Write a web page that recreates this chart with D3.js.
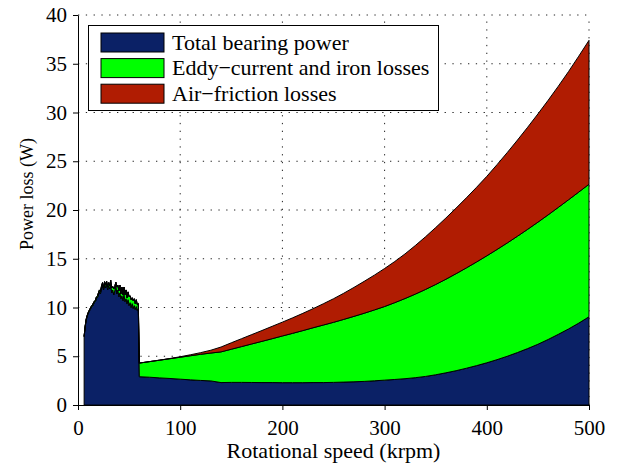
<!DOCTYPE html>
<html>
<head>
<meta charset="utf-8">
<script src="https://cdn.jsdelivr.net/npm/d3@7"></script>
<style>
  body { margin: 0; background: #fff; }
  svg { display: block; }
  text { font-family: "Liberation Serif", "Times New Roman", serif; fill: #000; }
</style>
</head>
<body>
<svg id="chart" width="618" height="465"></svg>
<script>
// Rotational speed (krpm): fine steps through the low-speed bearing regime,
// coarser steps once the rotor runs on the magnetic bearing.
const lowSpeed = [6, 7, 8, 9, 10, 11, 12, 13, 14, 15, 16, 17, 18, 19, 20, 21, 22, 23, 24, 25,
  26, 27, 28, 29, 30, 31, 32, 33, 34, 35, 36, 37, 38, 39, 40, 41, 42, 43, 44, 45,
  46, 47, 48, 49, 50, 51, 52, 53, 54, 55, 56, 57, 58, 59];
const highSpeed = [60, 70, 80, 90, 100, 110, 120, 130, 140, 150, 160, 170, 180, 190, 200,
  210, 220, 230, 240, 250, 260, 270, 280, 290, 300, 310, 320, 330, 340, 350,
  360, 370, 380, 390, 400, 410, 420, 430, 440, 450, 460, 470, 480, 490, 500];

// Total bearing power (W)
const bearingLow = [7.0, 8.0, 8.7, 9.1, 9.4, 9.6, 9.8, 10.0, 10.1, 10.3, 10.5, 10.6, 10.9, 11.0, 11.3,
  11.6, 11.4, 12.0, 12.3, 11.8, 12.4, 12.0, 12.5, 11.8, 12.2, 11.9, 12.4, 11.5, 11.8, 11.3,
  11.7, 12.3, 11.4, 11.8, 11.1, 11.5, 10.9, 11.2, 10.7, 11.3, 10.6, 10.9, 10.4, 10.8, 10.2,
  10.5, 10.0, 10.4, 9.9, 10.2, 9.8, 10.1, 9.7, 9.9];
const bearingHigh = [2.9, 2.85, 2.78, 2.72, 2.65, 2.58, 2.52, 2.47, 2.3, 2.32, 2.32, 2.31, 2.3, 2.3, 2.29,
  2.29, 2.29, 2.3, 2.3, 2.32, 2.35, 2.38, 2.42, 2.48, 2.55, 2.62, 2.7, 2.8, 2.93, 3.1,
  3.3, 3.52, 3.77, 4.04, 4.33, 4.65, 5.0, 5.38, 5.79, 6.23, 6.72, 7.25, 7.8, 8.4, 9.05];

// Eddy-current and iron losses (W)
const eddyLow = [0.05, 0.08, 0.1, 0.1, 0.1, 0.12, 0.12, 0.12, 0.15, 0.15,
  0.15, 0.15, 0.18, 0.18, 0.2, 0.2, 0.25, 0.2, 0.25, 0.2,
  0.25, 0.3, 0.2, 0.3, 0.35, 0.3, 0.4, 0.5, 0.35, 0.6,
  0.45, 0.3, 0.7, 0.5, 0.6, 0.8, 0.5, 0.9, 0.6, 0.8,
  0.7, 0.9, 0.6, 0.8, 0.9, 0.7, 0.8, 0.6, 0.8, 0.7,
  0.6, 0.7, 0.6, 0.5];
const eddyHigh = [1.4, 1.6, 1.82, 2.03, 2.25, 2.47, 2.68, 2.86, 3.15, 3.4, 3.67, 3.95, 4.23, 4.5, 4.79,
  5.06, 5.34, 5.62, 5.9, 6.16, 6.43, 6.71, 6.99, 7.27, 7.55, 7.88, 8.22, 8.57, 8.92, 9.26,
  9.6, 9.95, 10.29, 10.63, 10.97, 11.3, 11.62, 11.93, 12.23, 12.52, 12.78, 13.02, 13.25, 13.44, 13.59];

// Air-friction losses (W)
const airLow = [0, 0, 0, 0, 0, 0, 0, 0, 0, 0, 0, 0, 0, 0, 0, 0, 0, 0, 0, 0,
  0, 0, 0, 0, 0, 0, 0, 0, 0, 0, 0, 0, 0, 0, 0, 0, 0, 0, 0, 0,
  0, 0, 0, 0, 0, 0, 0, 0, 0, 0, 0, 0, 0, 0];
const airHigh = [0, 0, 0, 0.02, 0.05, 0.1, 0.17, 0.29, 0.5, 0.66, 0.81, 0.96, 1.11, 1.27, 1.42,
  1.59, 1.77, 1.96, 2.18, 2.42, 2.68, 2.97, 3.27, 3.57, 3.9, 4.22, 4.58, 4.98, 5.4, 5.84,
  6.28, 6.73, 7.19, 7.66, 8.15, 8.7, 9.27, 9.86, 10.47, 11.1, 11.75, 12.43, 13.15, 13.94, 14.76];

const xTicks = [0, 100, 200, 300, 400, 500];
const yTicks = [0, 5, 10, 15, 20, 25, 30, 35, 40];
const seriesKeys = ["bearing", "eddy", "air"];
const seriesLabels = ["Total bearing power", "Eddy\u2212current and iron losses", "Air\u2212friction losses"];
const seriesColors = ["#0b2166", "#00ff00", "#b01c02"];

// Build one row per speed sample for the stack layout.
const speed = lowSpeed.concat(highSpeed);
const bearing = bearingLow.concat(bearingHigh);
const eddy = eddyLow.concat(eddyHigh);
const air = airLow.concat(airHigh);
const rows = speed.map((s, i) => ({ speed: s, bearing: bearing[i], eddy: eddy[i], air: air[i] }));

const svg = d3.select("#chart");
const plot = { left: 78, right: 589, top: 15, bottom: 405 };

const x = d3.scaleLinear().domain([0, 500]).range([plot.left, plot.right]);
const y = d3.scaleLinear().domain([0, 40]).range([plot.bottom, plot.top]);

// Dotted grid behind the data
const grid = svg.append("g").attr("stroke", "#222").attr("stroke-width", 1)
  .attr("stroke-dasharray", "1.3,6.5").attr("fill", "none");
grid.selectAll("line.v").data(xTicks.filter(d => d > 0)).join("line")
  .attr("class", "v")
  .attr("x1", d => x(d)).attr("x2", d => x(d))
  .attr("y1", y(0)).attr("y2", y(40));
grid.selectAll("line.h").data(yTicks.filter(d => d > 0)).join("line")
  .attr("class", "h")
  .attr("x1", x(0)).attr("x2", x(500))
  .attr("y1", d => y(d)).attr("y2", d => y(d));

// Stacked areas
const stacked = d3.stack().keys(seriesKeys)(rows);
const area = d3.area()
  .x(d => x(d.data.speed))
  .y0(d => y(d[0]))
  .y1(d => y(d[1]));

svg.append("g").selectAll("path").data(stacked).join("path")
  .attr("d", area)
  .attr("fill", (d, i) => seriesColors[i])
  .attr("stroke", "#000")
  .attr("stroke-width", 1)
  .attr("stroke-linejoin", "round");

// Axes
const xAxis = svg.append("g")
  .attr("transform", `translate(0,${plot.bottom})`)
  .call(d3.axisBottom(x).tickValues(xTicks).tickSize(5).tickSizeOuter(0).tickPadding(10));
const yAxis = svg.append("g")
  .attr("transform", `translate(${plot.left},0)`)
  .call(d3.axisLeft(y).tickValues(yTicks).tickSize(5).tickSizeOuter(0).tickPadding(6));
[xAxis, yAxis].forEach(g => {
  g.select(".domain").attr("stroke", "#000").attr("stroke-width", 1);
  g.selectAll(".tick line").attr("stroke", "#000").attr("stroke-width", 1);
  g.selectAll(".tick text")
    .attr("font-family", "Liberation Serif, Times New Roman, serif")
    .attr("font-size", 21).attr("fill", "#000");
});

// Axis titles
svg.append("text")
  .attr("x", (plot.left + plot.right) / 2).attr("y", 458)
  .attr("text-anchor", "middle").attr("font-size", 22)
  .text("Rotational speed (krpm)");
svg.append("text")
  .attr("transform", "translate(33,194) rotate(-90)")
  .attr("text-anchor", "middle").attr("font-size", 18)
  .text("Power loss (W)");

// Legend
const legend = svg.append("g");
legend.append("rect")
  .attr("x", 88.5).attr("y", 25.5).attr("width", 350).attr("height", 85)
  .attr("fill", "#fff").attr("stroke", "#000").attr("stroke-width", 1);
const items = legend.selectAll("g.item").data(seriesKeys).join("g")
  .attr("class", "item")
  .attr("transform", (d, i) => `translate(0,${i * 25.6})`);
items.append("rect")
  .attr("x", 101).attr("y", 33).attr("width", 63).attr("height", 19)
  .attr("fill", (d, i) => seriesColors[i]).attr("stroke", "#000").attr("stroke-width", 1);
items.append("text")
  .attr("x", 172).attr("y", 49.5).attr("font-size", 22)
  .text((d, i) => seriesLabels[i]);
</script>
</body>
</html>
